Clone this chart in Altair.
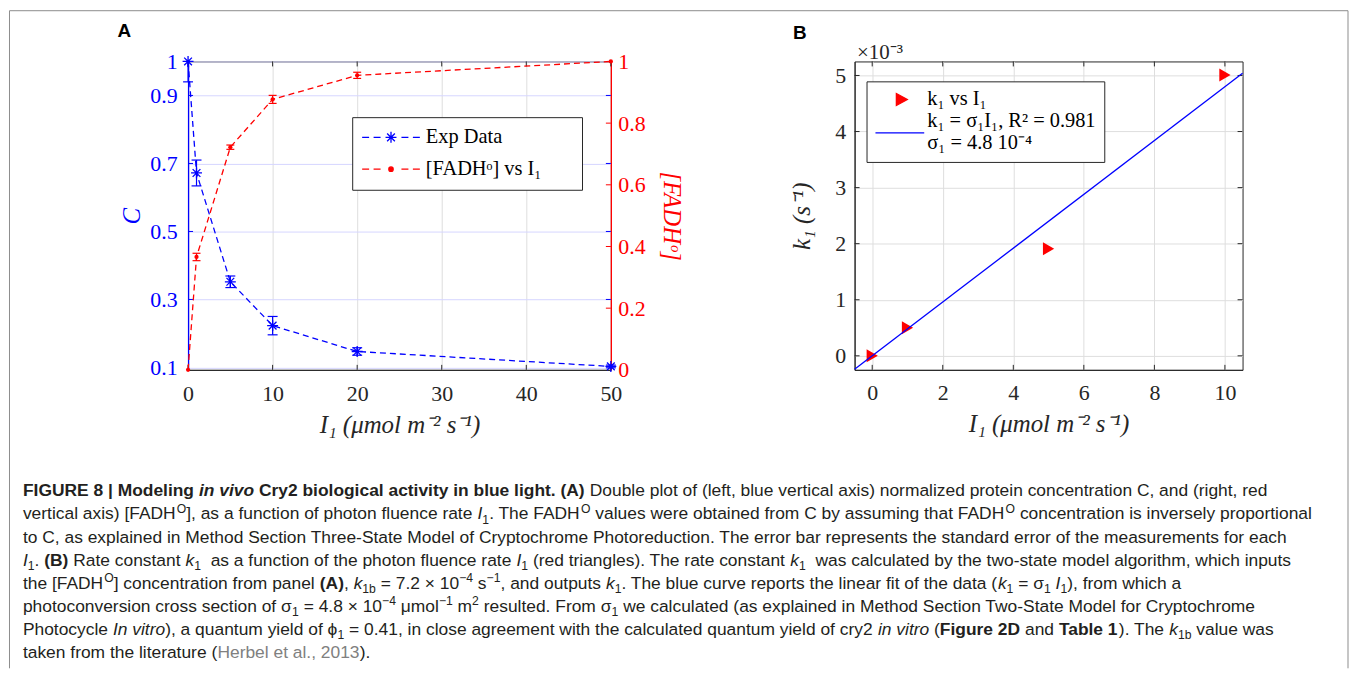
import glob
import math
import os
import struct

import altair as alt
import pandas as pd

# ------------------------------------------------------------------ data
# Panel A : normalised protein concentration C (left axis) and [FADH°] (right axis)
I1_A = [0, 1, 5, 10, 20, 50]
C_vals = [1.000, 0.672, 0.352, 0.223, 0.147, 0.103]
C_err = [0.060, 0.038, 0.017, 0.027, 0.011, 0.004]
F_vals = [0.000, 0.366, 0.722, 0.877, 0.955, 1.000]
F_err = [0.000, 0.012, 0.007, 0.013, 0.010, 0.000]
C_ticks = [0.1, 0.3, 0.5, 0.7, 0.9, 1]
F_ticks = [0, 0.2, 0.4, 0.6, 0.8, 1]
IA_ticks = [0, 10, 20, 30, 40, 50]
legendA_labels = ["Exp Data", "[FADHᵒ] vs I₁\u2800\u2800"]

# Panel B : rate constant k1 (x 10^-3 s^-1) and its linear fit k1 = sigma1 * I1
I1_B = [0, 1, 5, 10]
k1_vals = [0.00, 0.50, 1.91, 5.01]
sigma1 = 0.48  # 4.8e-4, expressed in units of 1e-3
IB_ticks = [0, 2, 4, 6, 8, 10]
k_ticks = [0, 1, 2, 3, 4, 5]
legendB_labels = ["k₁ vs I₁", "k₁ = σ₁I₁, R² = 0.981|σ₁ = 4.8 10⁻⁴"]

# Caption (style, text) segments, one list per printed line
caption_lines = [
    [("b", "FIGURE 8 | Modeling "), ("bi", "in vivo"), ("b", " Cry2 biological activity in blue light. (A)"),
     ("n", " Double plot of (left, blue vertical axis) normalized protein concentration C, and (right, red")],
    [("n", "vertical axis) [FADH"), ("sup", "O"), ("n", "], as a function of photon fluence rate "), ("i", "I"),
     ("sub", "1"), ("n", ". The FADH"), ("sup", "O"), ("n", " values were obtained from C by assuming that FADH"),
     ("sup", "O"), ("n", " concentration is inversely proportional")],
    [("n", "to C, as explained in Method Section Three-State Model of Cryptochrome Photoreduction. "
           "The error bar represents the standard error of the measurements for each")],
    [("i", "I"), ("sub", "1"), ("n", ". "), ("b", "(B)"), ("n", " Rate constant "), ("i", "k"), ("sub", "1"),
     ("n", "  as a function of the photon fluence rate "), ("i", "I"), ("sub", "1"),
     ("n", " (red triangles). The rate constant "), ("i", "k"), ("sub", "1"),
     ("n", "  was calculated by the two-state model algorithm, which inputs")],
    [("n", "the [FADH"), ("sup", "O"), ("n", "] concentration from panel "), ("b", "(A)"), ("n", ", "), ("i", "k"),
     ("sub", "1b"), ("n", " = 7.2 × 10"), ("sup", "−4"), ("n", " s"), ("sup", "−1"), ("n", ", and outputs "),
     ("i", "k"), ("sub", "1"), ("n", ". The blue curve reports the linear fit of the data ("), ("i", "k"),
     ("sub", "1"), ("n", " = σ"), ("sub", "1"), ("n", " "), ("i", "I"), ("sub", "1"), ("n", "), from which a")],
    [("n", "photoconversion cross section of σ"), ("sub", "1"), ("n", " = 4.8 × 10"), ("sup", "−4"), ("n", " μmol"),
     ("sup", "−1"), ("n", " m"), ("sup", "2"), ("n", " resulted. From σ"), ("sub", "1"),
     ("n", " we calculated (as explained in Method Section Two-State Model for Cryptochrome")],
    [("n", "Photocycle "), ("i", "In vitro"), ("n", "), a quantum yield of ϕ"), ("sub", "1"),
     ("n", " = 0.41, in close agreement with the calculated quantum yield of cry2 "), ("i", "in vitro"),
     ("n", " ("), ("b", "Figure 2D"), ("n", " and "), ("b", "Table 1"), ("n", "). The "), ("i", "k"),
     ("sub", "1b"), ("n", " value was")],
    [("n", "taken from the literature ("), ("g", "Herbel et al., 2013"), ("n", ").")],
]

# ------------------------------------------------------------------ styling
BLUE, RED, INK = "#0000ff", "#ff0000", "#262626"
GRID, BGRID = "#dedede", "#d6d6ff"
TXT, LINK = "#231f20", "#808080"
SERIF, SANS = "Liberation Serif", "Liberation Sans"
WA, HA = 425, 310
WB, HB = 390, 310


# ------------------------------------------------------------------ caption text metrics
def _find_font(name):
    roots = ["/usr/share/fonts", "/usr/local/share/fonts",
             os.path.expanduser("~/.fonts"), os.path.expanduser("~/.local/share/fonts")]
    for r in roots:
        hits = glob.glob(os.path.join(r, "**", name), recursive=True)
        if hits:
            return hits[0]
    return None


class TTF:
    def __init__(self, path):
        d = open(path, "rb").read()
        n = struct.unpack(">H", d[4:6])[0]
        t = {}
        for i in range(n):
            tag, _, off, _ln = struct.unpack(">4sIII", d[12 + 16 * i:28 + 16 * i])
            t[tag.decode("latin-1")] = off
        self.upem = struct.unpack(">H", d[t["head"] + 18:t["head"] + 20])[0]
        nhm = struct.unpack(">H", d[t["hhea"] + 34:t["hhea"] + 36])[0]
        ho = t["hmtx"]
        self.adv = [struct.unpack(">H", d[ho + 4 * i:ho + 4 * i + 2])[0] for i in range(nhm)]
        co = t["cmap"]
        nsub = struct.unpack(">H", d[co + 2:co + 4])[0]
        sub = None
        for i in range(nsub):
            pid, eid, so = struct.unpack(">HHI", d[co + 4 + 8 * i:co + 12 + 8 * i])
            fmt = struct.unpack(">H", d[co + so:co + so + 2])[0]
            if fmt == 4:
                sub = co + so
                if (pid, eid) == (3, 1):
                    break
        segx2 = struct.unpack(">H", d[sub + 6:sub + 8])[0]
        sc = segx2 // 2
        self.ends = struct.unpack(">%dH" % sc, d[sub + 14:sub + 14 + segx2])
        self.starts = struct.unpack(">%dH" % sc, d[sub + 16 + segx2:sub + 16 + 2 * segx2])
        self.deltas = struct.unpack(">%dh" % sc, d[sub + 16 + 2 * segx2:sub + 16 + 3 * segx2])
        self.rpos = sub + 16 + 3 * segx2
        self.roffs = struct.unpack(">%dH" % sc, d[self.rpos:self.rpos + segx2])
        self.d = d

    def gid(self, c):
        for i, e in enumerate(self.ends):
            if e >= c:
                if self.starts[i] > c:
                    return 0
                if self.roffs[i] == 0:
                    return (c + self.deltas[i]) & 0xFFFF
                a = self.rpos + 2 * i + self.roffs[i] + 2 * (c - self.starts[i])
                g = struct.unpack(">H", self.d[a:a + 2])[0]
                return (g + self.deltas[i]) & 0xFFFF if g else 0
        return 0

    def width(self, s):
        tot = 0.0
        for ch in s:
            g = self.gid(ord(ch))
            if g == 0:
                tot += 0.55
            else:
                tot += self.adv[min(g, len(self.adv) - 1)] / self.upem
        return tot


FONTS = {}
for key, fname, fb in [("regular", "LiberationSans-Regular.ttf", 0.50), ("bold", "LiberationSans-Bold.ttf", 0.55),
                       ("italic", "LiberationSans-Italic.ttf", 0.50),
                       ("bolditalic", "LiberationSans-BoldItalic.ttf", 0.55)]:
    try:
        FONTS[key] = TTF(_find_font(fname))
    except Exception:
        FONTS[key] = fb

STY = {
    "n": dict(font="regular", scale=1.0, dy=0.0, weight="normal", style="normal", color=TXT),
    "b": dict(font="bold", scale=1.0, dy=0.0, weight="bold", style="normal", color=TXT),
    "i": dict(font="italic", scale=1.0, dy=0.0, weight="normal", style="italic", color=TXT),
    "bi": dict(font="bolditalic", scale=1.0, dy=0.0, weight="bold", style="italic", color=TXT),
    "sup": dict(font="regular", scale=0.7, dy=-0.38, weight="normal", style="normal", color=TXT),
    "sub": dict(font="regular", scale=0.7, dy=0.24, weight="normal", style="normal", color=TXT),
    "g": dict(font="regular", scale=1.0, dy=0.0, weight="normal", style="normal", color=LINK),
}


def em_width(text, style):
    f = FONTS[STY[style]["font"]]
    w = f.width(text) if isinstance(f, TTF) else f * len(text)
    return w * STY[style]["scale"]


line1_em = sum(em_width(t, s) for s, t in caption_lines[1])
CAP_FS = max(14.0, min(17.5, 1318.0 / line1_em))

CAP_X0 = 22 - 188  # caption starts at page x 22; chart origin is panel A's plot left edge
rows = []
for li, segs in enumerate(caption_lines):
    cursor = CAP_X0
    for s, t in segs:
        lead = len(t) - len(t.lstrip(" "))
        body = t.strip(" ")
        if body:
            rows.append({"line": li, "x": cursor + em_width(" " * lead, s) * CAP_FS, "text": body, "style": s})
        cursor += em_width(t, s) * CAP_FS
cap_df = pd.DataFrame(rows)

# ------------------------------------------------------------------ legend symbols (custom paths)
LEG_FS = 20.5
SYM_SIZE = 256
SYM_SW = 1.3
_r = math.sqrt(SYM_SIZE) / 2
_S = max(math.ceil(math.sqrt(SYM_SIZE) + SYM_SW), LEG_FS)
_c = _S / 2


def _u(px):
    return round((px - _c) / _r, 4)


def _seg(a, b, ypx=0.0):
    yy = round(ypx / _r, 4)
    return f"M{_u(a)},{yy}L{_u(b)},{yy}"


def _aster(cx_px, rad_px):
    cx = _u(cx_px)
    rr = rad_px / _r
    dd = rr * 0.7071
    return (f"M{cx - rr:.4f},0L{cx + rr:.4f},0M{cx:.4f},{-rr:.4f}L{cx:.4f},{rr:.4f}"
            f"M{cx - dd:.4f},{-dd:.4f}L{cx + dd:.4f},{dd:.4f}M{cx - dd:.4f},{dd:.4f}L{cx + dd:.4f},{-dd:.4f}")


def _dot(cx_px, rad_px):
    cx = _u(cx_px)
    rr = rad_px / _r
    return f"M{cx + rr:.4f},0A{rr:.4f},{rr:.4f} 0 1,1 {cx - rr:.4f},0A{rr:.4f},{rr:.4f} 0 1,1 {cx + rr:.4f},0Z"


dashesA = _seg(0, 7) + _seg(11.5, 18.5) + _seg(39.5, 46.5) + _seg(51, 58)
symA = [dashesA + _aster(29, 5.5), dashesA + _dot(29, 2.2)]
symB = [f"M{_u(22)},{-6 / _r:.4f}L{_u(33)},0L{_u(22)},{6 / _r:.4f}Z", _seg(1, 50, 12)]
ASTERISK = "M-1,0L1,0M0,-1L0,1M-0.7071,-0.7071L0.7071,0.7071M-0.7071,0.7071L0.7071,-0.7071"

# ------------------------------------------------------------------ panel A
dfA = pd.DataFrame({"I": I1_A, "C": C_vals, "Ce": C_err, "F": F_vals, "Fe": F_err})
dfA["Clo"] = dfA["C"] - dfA["Ce"]
dfA["Chi"] = (dfA["C"] + dfA["Ce"]).clip(upper=1.0)
dfA["Flo"] = dfA["F"] - dfA["Fe"]
dfA["Fhi"] = dfA["F"] + dfA["Fe"]
dfA_Cerr = dfA[dfA["Ce"] > 0]
dfA_Chicap = dfA[(dfA["Ce"] > 0) & (dfA["C"] + dfA["Ce"] <= 1.0)]
dfA_Ferr = dfA[dfA["Fe"] > 0]

xA = alt.Scale(domain=[0, 50], nice=False, zero=False)
cS = alt.Scale(domain=[0.093, 1], nice=False, zero=False)
fS = alt.Scale(domain=[0, 1], nice=False, zero=False)

x_axis_A = alt.Axis(values=IA_ticks, format="d", title="I₁ (μmol m⁻² s⁻¹)", grid=True, gridColor=GRID,
                    domainColor=INK, domainWidth=1, labelColor=INK, labelPadding=14, titleColor=INK,
                    titlePadding=8, titleFontStyle="italic")
c_axis = alt.Axis(orient="left", values=C_ticks, format="~g", title="C", grid=True, gridColor=BGRID,
                  domainColor=BLUE, domainWidth=1.3, labelColor=BLUE, labelPadding=11, titleColor=BLUE,
                  titleFontStyle="italic", titlePadding=5)
f_axis = alt.Axis(orient="right", values=F_ticks, format="~g", title="[FADHᵒ]", grid=False,
                  domainColor=RED, domainWidth=1.3, labelColor=RED, labelPadding=7, titleColor=RED,
                  titleFontStyle="italic", titlePadding=13)

tickA_x = pd.DataFrame({"v": IA_ticks})
tickA_c = pd.DataFrame({"v": [0.3, 0.5, 0.7, 0.9]})
tickA_f = pd.DataFrame({"v": [0.2, 0.4, 0.6, 0.8]})

xa_bot = alt.Chart(tickA_x).mark_rule(color=INK, strokeWidth=1).encode(
    x=alt.X("v:Q", scale=xA), y=alt.value(HA), y2=alt.value(HA - 5))
xa_top = alt.Chart(tickA_x).mark_rule(color=INK, strokeWidth=1).encode(
    x=alt.X("v:Q", scale=xA), y=alt.value(0), y2=alt.value(5))
ca_l = alt.Chart(tickA_c).mark_rule(color=BLUE, strokeWidth=1).encode(
    y=alt.Y("v:Q", scale=cS), x=alt.value(0), x2=alt.value(5))
ca_r = alt.Chart(tickA_c).mark_rule(color=BLUE, strokeWidth=1).encode(
    y=alt.Y("v:Q", scale=cS), x=alt.value(WA - 5), x2=alt.value(WA))
c_err = alt.Chart(dfA_Cerr).mark_rule(color=BLUE, strokeWidth=1.2).encode(
    x=alt.X("I:Q", scale=xA), y=alt.Y("Clo:Q", scale=cS), y2="Chi:Q")
c_cap_lo = alt.Chart(dfA_Cerr).mark_tick(color=BLUE, orient="horizontal", size=10, thickness=1.2,
                                         opacity=1).encode(
    x=alt.X("I:Q", scale=xA), y=alt.Y("Clo:Q", scale=cS))
c_cap_hi = alt.Chart(dfA_Chicap).mark_tick(color=BLUE, orient="horizontal", size=10, thickness=1.2,
                                           opacity=1).encode(
    x=alt.X("I:Q", scale=xA), y=alt.Y("Chi:Q", scale=cS))
c_line = alt.Chart(dfA).mark_line(color=BLUE, strokeWidth=1.3, strokeDash=[6, 4]).encode(
    x=alt.X("I:Q", scale=xA, axis=x_axis_A), y=alt.Y("C:Q", scale=cS, axis=c_axis))
c_pts = alt.Chart(dfA).mark_point(shape=ASTERISK, size=121, filled=False, color=BLUE, strokeWidth=1.3,
                                  opacity=1).encode(
    x=alt.X("I:Q", scale=xA), y=alt.Y("C:Q", scale=cS))

legA = alt.Legend(orient="none", legendX=165, legendY=56, title=None, padding=10, fillColor="white",
                  strokeColor=INK, labelFont=SERIF, labelFontSize=LEG_FS, labelColor="black",
                  labelOffset=64 - _S, labelLimit=500, symbolSize=SYM_SIZE, symbolStrokeWidth=SYM_SW,
                  symbolOpacity=1, symbolOffset=0, rowPadding=11)
dummyA = alt.Chart(pd.DataFrame({"series": legendA_labels, "I": [0, 0], "C": [1, 1]})).mark_point(
    opacity=0, strokeWidth=SYM_SW).encode(
    x=alt.X("I:Q", scale=xA), y=alt.Y("C:Q", scale=cS),
    fill=alt.Fill("series:N", scale=alt.Scale(domain=legendA_labels, range=[BLUE, RED]), legend=legA),
    stroke=alt.Stroke("series:N", scale=alt.Scale(domain=legendA_labels, range=[BLUE, RED]), legend=legA),
    shape=alt.Shape("series:N", scale=alt.Scale(domain=legendA_labels, range=symA), legend=legA))

fa_r = alt.Chart(tickA_f).mark_rule(color=RED, strokeWidth=1).encode(
    y=alt.Y("v:Q", scale=fS), x=alt.value(WA - 5), x2=alt.value(WA))
f_err = alt.Chart(dfA_Ferr).mark_rule(color=RED, strokeWidth=1.2).encode(
    x=alt.X("I:Q", scale=xA), y=alt.Y("Flo:Q", scale=fS), y2="Fhi:Q")
f_cap_lo = alt.Chart(dfA_Ferr).mark_tick(color=RED, orient="horizontal", size=8, thickness=1.2,
                                         opacity=1).encode(
    x=alt.X("I:Q", scale=xA), y=alt.Y("Flo:Q", scale=fS))
f_cap_hi = alt.Chart(dfA_Ferr).mark_tick(color=RED, orient="horizontal", size=8, thickness=1.2,
                                         opacity=1).encode(
    x=alt.X("I:Q", scale=xA), y=alt.Y("Fhi:Q", scale=fS))
f_line = alt.Chart(dfA).mark_line(color=RED, strokeWidth=1.3, strokeDash=[6, 4]).encode(
    x=alt.X("I:Q", scale=xA), y=alt.Y("F:Q", scale=fS, axis=f_axis))
f_pts = alt.Chart(dfA).mark_circle(color=RED, size=18, opacity=1).encode(
    x=alt.X("I:Q", scale=xA), y=alt.Y("F:Q", scale=fS))

left_A = alt.layer(c_line, xa_bot, xa_top, ca_l, ca_r, c_err, c_cap_lo, c_cap_hi, c_pts, dummyA)
right_A = alt.layer(f_line, fa_r, f_err, f_cap_lo, f_cap_hi, f_pts)
panelA = alt.layer(left_A, right_A).resolve_scale(y="independent").properties(
    width=WA, height=HA,
    view=alt.ViewBackground(stroke=INK, strokeWidth=1),
    title=alt.TitleParams(text="A", anchor="start", frame="group", dx=-71, offset=10,
                          font=SANS, fontSize=19, fontWeight="bold", color="black"))

# ------------------------------------------------------------------ panel B
dfB = pd.DataFrame({"I": I1_B, "k": k1_vals})
xB = alt.Scale(domain=[-0.5, 10.5], nice=False, zero=False)
yB = alt.Scale(domain=[-0.25, 5.25], nice=False, zero=False)
fit_I = [-0.5, 10.5]
dfFit = pd.DataFrame({"I": fit_I, "k": [sigma1 * v for v in fit_I]})

x_axis_B = alt.Axis(values=IB_ticks, format="d", title="I₁ (μmol m⁻² s⁻¹)", grid=True, gridColor=GRID,
                    domainColor=INK, domainWidth=1, labelColor=INK, labelPadding=13, titleColor=INK,
                    titlePadding=8, titleFontStyle="italic")
y_axis_B = alt.Axis(values=k_ticks, format="d", title="k₁ (s⁻¹)", grid=True, gridColor=GRID,
                    domainColor=INK, domainWidth=1, labelColor=INK, labelPadding=9, titleColor=INK,
                    titleFontStyle="italic", titlePadding=20)
top_axis_B = alt.Axis(orient="top", labels=False, ticks=False, domain=False, grid=False, title="×10⁻³",
                      titleX=2, titleY=-3, titleAlign="left", titleAngle=0, titleBaseline="alphabetic",
                      titlePadding=0, minExtent=0, maxExtent=0,
                      titleFont=SERIF, titleFontSize=21, titleFontWeight="normal", titleColor=INK)

tickB_x = pd.DataFrame({"v": IB_ticks})
tickB_y = pd.DataFrame({"v": k_ticks})
b_pts = alt.Chart(dfB).mark_point(shape="triangle-right", size=170, filled=True, color=RED, opacity=1).encode(
    x=alt.X("I:Q", scale=xB, axis=x_axis_B), y=alt.Y("k:Q", scale=yB, axis=y_axis_B))
xb_bot = alt.Chart(tickB_x).mark_rule(color=INK, strokeWidth=1).encode(
    x=alt.X("v:Q", scale=xB), y=alt.value(HB), y2=alt.value(HB - 5))
xb_top = alt.Chart(tickB_x).mark_rule(color=INK, strokeWidth=1).encode(
    x=alt.X("v:Q", scale=xB), y=alt.value(0), y2=alt.value(5))
yb_l = alt.Chart(tickB_y).mark_rule(color=INK, strokeWidth=1).encode(
    y=alt.Y("v:Q", scale=yB), x=alt.value(0), x2=alt.value(5))
yb_r = alt.Chart(tickB_y).mark_rule(color=INK, strokeWidth=1).encode(
    y=alt.Y("v:Q", scale=yB), x=alt.value(WB - 5), x2=alt.value(WB))

legB = alt.Legend(orient="none", legendX=12, legendY=20, title=None, padding=8, fillColor="white",
                  strokeColor=INK, labelFont=SERIF, labelFontSize=LEG_FS, labelColor="black",
                  labelOffset=53 - _S, labelLimit=500, symbolSize=SYM_SIZE, symbolStrokeWidth=SYM_SW,
                  symbolOpacity=1, symbolOffset=0, rowPadding=0.5,
                  labelExpr="split(datum.label, '|')")
dummyB = alt.Chart(pd.DataFrame({"series": legendB_labels, "I": [0, 0], "k": [0, 0]})).mark_point(
    opacity=0, strokeWidth=SYM_SW).encode(
    x=alt.X("I:Q", scale=xB), y=alt.Y("k:Q", scale=yB),
    fill=alt.Fill("series:N", scale=alt.Scale(domain=legendB_labels, range=[RED, BLUE]), legend=legB),
    stroke=alt.Stroke("series:N", scale=alt.Scale(domain=legendB_labels, range=[RED, BLUE]), legend=legB),
    shape=alt.Shape("series:N", scale=alt.Scale(domain=legendB_labels, range=symB), legend=legB))

b_fit = alt.Chart(dfFit).mark_line(color=BLUE, strokeWidth=1.3).encode(
    x=alt.X("I:Q", scale=xB, axis=top_axis_B), y=alt.Y("k:Q", scale=yB))

panelB = alt.layer(alt.layer(b_pts, xb_bot, xb_top, yb_l, yb_r, dummyB), b_fit).resolve_scale(
    x="independent").properties(
    width=WB, height=HB,
    view=alt.ViewBackground(stroke=INK, strokeWidth=1),
    title=alt.TitleParams(text="B", anchor="start", frame="group", dx=-62, offset=-1,
                          font=SANS, fontSize=19, fontWeight="bold", color="black"))

# ------------------------------------------------------------------ caption + outer frame
cap_y = alt.Scale(domain=[0, 7], range=[19, 182.1], nice=False, zero=False)
cap_layers = []
for s, st in STY.items():
    sub = cap_df[cap_df["style"] == s]
    if len(sub) == 0:
        continue
    cap_layers.append(
        alt.Chart(sub).mark_text(align="left", baseline="alphabetic", font=SANS,
                                 fontSize=round(CAP_FS * st["scale"], 2), fontWeight=st["weight"],
                                 fontStyle=st["style"], color=st["color"], dy=round(st["dy"] * CAP_FS, 2)).encode(
            x=alt.X("x:Q", scale=None, axis=None),
            y=alt.Y("line:Q", scale=cap_y, axis=None),
            text="text:N"))

one = pd.DataFrame({"a": [0]})
FRAME = "#8c8c8c"
FRAME_TOP = -469
frame_l = alt.Chart(one).mark_rule(color=FRAME, strokeWidth=1).encode(
    x=alt.value(-179.5), y=alt.value(FRAME_TOP), y2=alt.value(192))
frame_r = alt.Chart(one).mark_rule(color=FRAME, strokeWidth=1).encode(
    x=alt.value(1166), y=alt.value(FRAME_TOP), y2=alt.value(192))
frame_t = alt.Chart(one).mark_rule(color=FRAME, strokeWidth=1).encode(
    x=alt.value(-179.5), x2=alt.value(1166), y=alt.value(FRAME_TOP))

caption = alt.layer(frame_l, frame_r, frame_t, *cap_layers).properties(width=10, height=190)

chart = alt.concat(panelA, panelB, caption, columns=2, spacing={"row": 108, "column": 245},
                   bounds="flush").resolve_scale(
    fill="independent", stroke="independent", shape="independent").properties(
    padding=0).configure_view(stroke="transparent").configure_axis(
    labelFont=SERIF, titleFont=SERIF, labelFontSize=22, titleFontSize=25, titleFontWeight="normal",
    tickSize=0, labelFlush=False, labelOverlap=False, gridWidth=1)

chart.save("out.html", embed_options={"renderer": "svg", "actions": False})
